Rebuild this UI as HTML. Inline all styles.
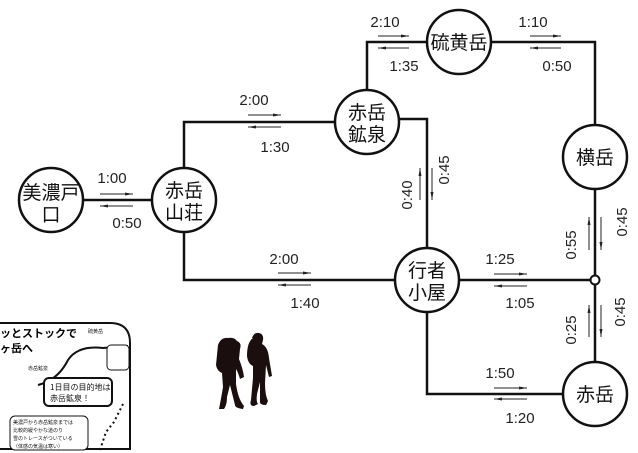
<!DOCTYPE html>
<html><head><meta charset="utf-8"><style>
html,body{margin:0;padding:0;background:#fff;width:638px;height:453px;overflow:hidden}
svg{display:block}
.k{font-family:"Liberation Sans","Noto Sans CJK JP",sans-serif;font-size:19px;fill:#111}
.n{font-family:"Liberation Sans",sans-serif;font-size:15px;fill:#222}
.s{font-family:"Noto Sans CJK JP",sans-serif;font-size:7px;fill:#111}
</style></head><body>
<svg width="638" height="453" viewBox="0 0 638 453" xmlns="http://www.w3.org/2000/svg">
<defs>
<marker id="a" markerWidth="8" markerHeight="6" refX="8" refY="3" orient="auto" markerUnits="userSpaceOnUse"><path d="M0,1.5 L8,3 L0,4.5 Z" fill="#222"/></marker>
</defs>
<g stroke="#111" stroke-width="2.5" fill="none">
<line x1="84" y1="200" x2="152" y2="200"/>
<polyline points="184,168 184,122 335,122"/>
<polyline points="367,90 367,42 427,42"/>
<polyline points="491,42 595,42 595,125"/>
<line x1="595" y1="189" x2="595" y2="276"/>
<polyline points="398,119 427,119 427,248"/>
<polyline points="184,232 184,280 395,280"/>
<line x1="459" y1="280" x2="591" y2="280"/>
<line x1="595" y1="284" x2="595" y2="362"/>
<polyline points="427,312 427,394 563,394"/>
</g>
<g stroke="#111" stroke-width="2.5" fill="#fff">
<circle cx="51" cy="200" r="32"/><circle cx="184" cy="200" r="32"/>
<circle cx="367" cy="122" r="32"/><circle cx="459" cy="42" r="32"/>
<circle cx="595" cy="157" r="32"/><circle cx="427" cy="280" r="32"/>
<circle cx="595" cy="394" r="32"/><circle cx="595" cy="280" r="4.5" stroke-width="2"/>
</g>
<g class="k" text-anchor="middle">
<text x="51" y="199">美濃戸</text><text x="51" y="221">口</text>
<text x="184" y="197">赤岳</text><text x="184" y="219">山荘</text>
<text x="367" y="119">赤岳</text><text x="367" y="141">鉱泉</text>
<text x="459" y="49">硫黄岳</text>
<text x="595" y="164">横岳</text>
<text x="427" y="277">行者</text><text x="427" y="299">小屋</text>
<text x="595" y="401">赤岳</text>
</g>
<g stroke="#222" stroke-width="1" marker-end="url(#a)">
<line x1="100" y1="194" x2="133" y2="194"/><line x1="133" y1="206" x2="100" y2="206"/>
<line x1="248" y1="115" x2="281" y2="115"/><line x1="281" y1="127" x2="248" y2="127"/>
<line x1="378" y1="36" x2="409" y2="36"/><line x1="409" y1="48" x2="378" y2="48"/>
<line x1="530" y1="36" x2="561" y2="36"/><line x1="561" y1="48" x2="530" y2="48"/>
<line x1="278" y1="273" x2="311" y2="273"/><line x1="311" y1="285" x2="278" y2="285"/>
<line x1="494" y1="274" x2="527" y2="274"/><line x1="527" y1="286" x2="494" y2="286"/>
<line x1="494" y1="388" x2="527" y2="388"/><line x1="527" y1="399" x2="494" y2="399"/>
<line x1="420" y1="200" x2="420" y2="168"/><line x1="432" y1="168" x2="432" y2="200"/>
<line x1="589" y1="250" x2="589" y2="217"/><line x1="601" y1="217" x2="601" y2="250"/>
<line x1="589" y1="337" x2="589" y2="305"/><line x1="601" y1="305" x2="601" y2="337"/>
</g>
<g class="n" text-anchor="middle">
<text x="112" y="183">1:00</text><text x="127" y="228">0:50</text>
<text x="254" y="105">2:00</text><text x="275" y="152">1:30</text>
<text x="385" y="27">2:10</text><text x="404" y="71">1:35</text>
<text x="533" y="27">1:10</text><text x="557" y="71">0:50</text>
<text x="284" y="264">2:00</text><text x="305" y="308">1:40</text>
<text x="500" y="264">1:25</text><text x="520" y="308">1:05</text>
<text x="500" y="378">1:50</text><text x="520" y="423">1:20</text>
<text transform="translate(412,195) rotate(-90)">0:40</text>
<text transform="translate(449,170) rotate(-90)">0:45</text>
<text transform="translate(576,245) rotate(-90)">0:55</text>
<text transform="translate(627,222) rotate(-90)">0:45</text>
<text transform="translate(576,330) rotate(-90)">0:25</text>
<text transform="translate(625,312) rotate(-90)">0:45</text>
</g>
<g fill="#1a0e0e">
<path d="M218,345 q3,-8 10,-7 q6,-1 9,3 q5,2 3,8 l-1,10 q4,10 5,18 l-4,2 q-2,-7 -4,-10 l0,15 q2,15 8,22 l-1,3 q-8,-1 -8,-4 l-5,-20 l-3,12 q0,8 -3,12 l-5,0 q2,-10 4,-22 l-1,-14 q-5,-2 -6,-8 z"/>
<path d="M252,338 q2,-6 7,-5 q5,1 4,7 l-1,4 q6,3 7,14 l3,18 l-3,1 l-3,-12 l-1,18 q0,12 3,18 l-2,4 q-6,0 -6,-3 l0,-20 l-3,12 q-1,8 1,10 l-4,2 q-5,0 -3,-6 l2,-22 l0,-12 q-5,-2 -6,-10 q0,-14 6,-18 z"/>
</g>
<g>
<path d="M0,323 L110,323 Q130,323 130,343 L130,449 L0,449" fill="#fff" stroke="#111" stroke-width="2"/>
<text x="0" y="337" style="font-family:'Noto Sans CJK JP',sans-serif;font-size:11px;font-weight:bold">ッとストックで</text>
<text x="0" y="352" style="font-family:'Noto Sans CJK JP',sans-serif;font-size:11px;font-weight:bold">ヶ岳へ</text>
<path d="M38,385 q20,-5 30,-25 q10,-15 35,-12 l25,-2" fill="none" stroke="#111" stroke-width="2"/>
<rect x="44" y="378" width="68" height="28" rx="5" fill="#fff" stroke="#111" stroke-width="2"/>
<text class="s" x="50" y="390" style="font-size:8px">1日目の目的地は</text>
<text class="s" x="50" y="401" style="font-size:8px">赤岳鉱泉！</text>
<rect x="10" y="416" width="78" height="34" rx="5" fill="#fff" stroke="#111" stroke-width="1"/>
<text class="s" x="13" y="424" style="font-size:5px">美濃戸から赤岳鉱泉までは</text>
<text class="s" x="13" y="432" style="font-size:5px">比較的緩やかな道のり</text>
<text class="s" x="13" y="440" style="font-size:5px">雪のトレースがついている</text>
<text class="s" x="13" y="448" style="font-size:5px">（体感の気温は寒い）</text>
<rect x="107" y="345" width="22" height="25" rx="4" fill="#fff" stroke="#111" stroke-width="1"/>
<text class="s" x="28" y="370" style="font-size:5px">赤岳鉱泉</text>
<text class="s" x="88" y="333" style="font-size:5px">硫黄岳</text>
<path d="M100,450 l6,-18 l8,-10 l10,-20" fill="none" stroke="#111" stroke-width="2" stroke-dasharray="2,3"/>
</g>
</svg>
</body></html>
